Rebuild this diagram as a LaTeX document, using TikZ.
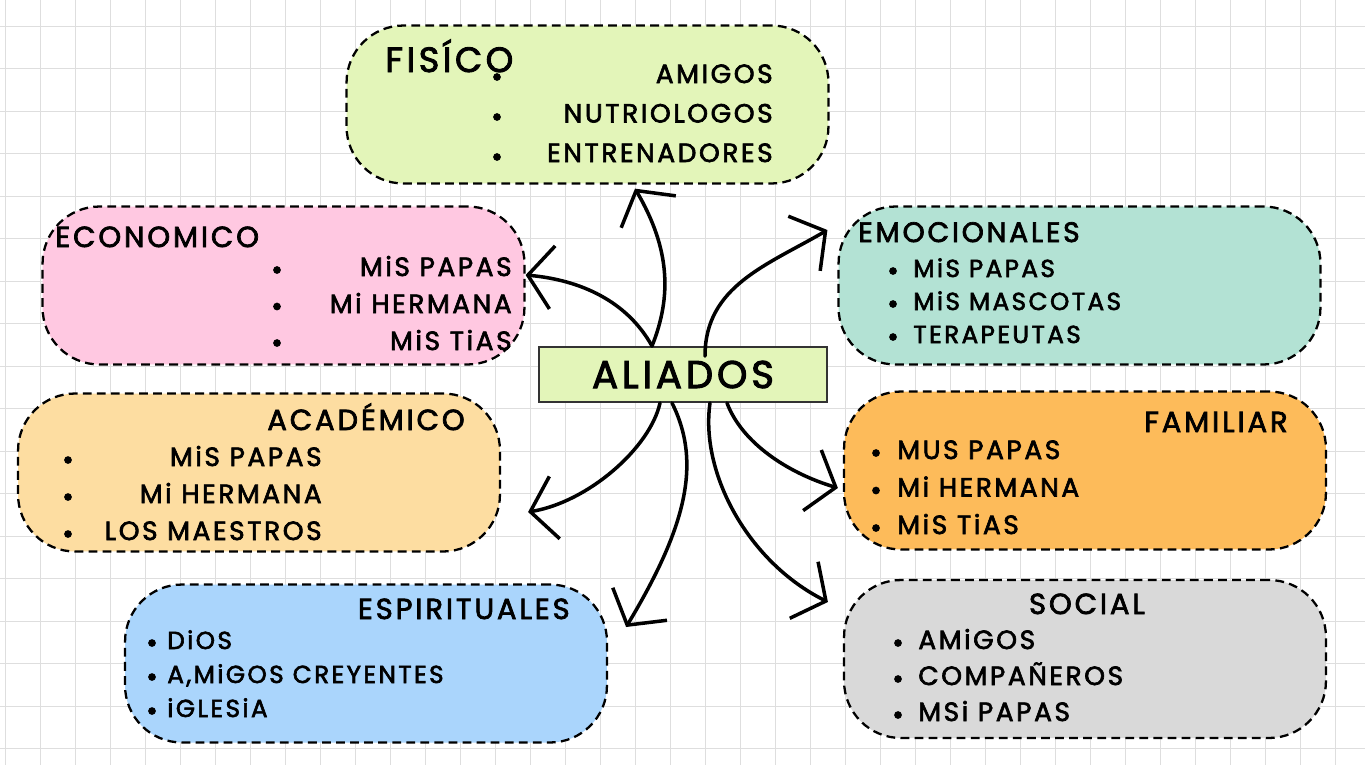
\documentclass[tikz,border=0pt]{standalone}
\usepackage{fontspec}
\setmainfont{Poppins}
\newfontfamily\handfont{Poppins}[LetterSpace=10, FakeBold=2.5]
\usetikzlibrary{arrows.meta}

\definecolor{fisicoC}{HTML}{E3F5B9}
\definecolor{economicoC}{HTML}{FFC8E1}
\definecolor{emocionC}{HTML}{B3E2D4}
\definecolor{academicoC}{HTML}{FDDDA1}
\definecolor{familiarC}{HTML}{FDBB5A}
\definecolor{espirituC}{HTML}{AAD5FC}
\definecolor{socialC}{HTML}{D9D9D9}

\tikzset{
  gridline/.style={draw=black!13, line width=0.5pt},
  catbox/.style={draw, dashed, dash pattern=on 5pt off 3pt, line width=1.3pt,
    rounded corners=1.14cm, minimum width=9.64cm, minimum height=3.16cm},
  title/.style={font=\handfont\fontsize{16.5}{18}\selectfont, inner sep=0pt},
  item/.style={font=\handfont\fontsize{15}{17}\selectfont, inner sep=0pt},
  smallitem/.style={font=\handfont\fontsize{14}{16}\selectfont, inner sep=0pt},
  dot/.style={circle, fill=black, inner sep=0pt, minimum size=4.4pt},
  aliarrow/.style={-{Straight Barb[length=14pt,width=36pt]}, line width=2pt, line cap=round}
}

\begin{document}
\begin{tikzpicture}[x=0.02cm, y=-0.02cm]

% background paper
\useasboundingbox (0,0) rectangle (1365,765);
\fill[white] (0,0) rectangle (1365,765);
\foreach \gx in {5,40,...,1365} \draw[gridline] (\gx,0) -- (\gx,765);
\foreach \gy in {26,68.5,...,765} \draw[gridline] (0,\gy) -- (1365,\gy);

% boxes
\node[catbox, fill=fisicoC] (fisico) at (587.5,104.5) {};
\node[catbox, fill=economicoC] (economico) at (283.5,285.5) {};
\node[catbox, fill=emocionC] (emocionales) at (1079.5,285.5) {};
\node[catbox, fill=academicoC] (academico) at (259,472.5) {};
\node[catbox, fill=familiarC] (familiar) at (1085,470.5) {};
\node[catbox, fill=espirituC] (espirituales) at (366,663.5) {};
\node[catbox, fill=socialC] (social) at (1085,659) {};
\node[draw=black!80, line width=1.1pt, fill=fisicoC, minimum width=5.76cm, minimum height=1.1cm,
  font=\handfont\fontsize{22}{24}\selectfont] (aliados) at (683,374.5) {ALIADOS};

% FISICO
\node[title, anchor=base west, font=\handfont\fontsize{20}{22}\selectfont] (fisT) at (385,72) {FISÍCO};
\foreach \t [count=\i] in {AMIGOS,NUTRIOLOGOS,ENTRENADORES} {
  \node[dot] (fisB\i) at (497,{77+40*(\i-1)}) {};
  \node[item, anchor=base east] (fisI\i) at (773,{83+39.5*(\i-1)}) {\t};
}

% ECONOMICO
\node[title, anchor=base west] (ecoT) at (55,247) {ECONOMICO};
\foreach \t [count=\i] in {MiS PAPAS,Mi HERMANA,MiS TiAS} {
  \node[dot] (ecoB\i) at (277,{270+36.5*(\i-1)}) {};
  \node[item, anchor=base east] (ecoI\i) at (512,{276+37*(\i-1)}) {\t};
}

% EMOCIONALES
\node[title, anchor=base west, font=\handfont\fontsize{16}{18}\selectfont] (emoT) at (858,242) {EMOCIONALES};
\foreach \t [count=\i] in {MiS PAPAS,MiS MASCOTAS,TERAPEUTAS} {
  \node[dot] (emoB\i) at (893,{271+33*(\i-1)}) {};
  \node[smallitem, anchor=base west] (emoI\i) at (913,{277+33*(\i-1)}) {\t};
}

% ACADEMICO
\node[title, anchor=base east] (acaT) at (465,430) {ACADÉMICO};
\foreach \t [count=\i] in {MiS PAPAS,Mi HERMANA,LOS MAESTROS} {
  \node[dot] (acaB\i) at (68,{460+37*(\i-1)}) {};
  \node[item, anchor=base east] (acaI\i) at (322,{466+37*(\i-1)}) {\t};
}

% FAMILIAR
\node[title, anchor=base east] (famT) at (1288,432) {FAMILIAR};
\foreach \t [count=\i] in {MUS PAPAS,Mi HERMANA,MiS TiAS} {
  \node[dot] (famB\i) at (876,{453+37.5*(\i-1)}) {};
  \node[item, anchor=base west] (famI\i) at (897,{459+37.5*(\i-1)}) {\t};
}

% ESPIRITUALES
\node[title, anchor=base east] (espT) at (570,619) {ESPIRITUALES};
\foreach \t [count=\i] in {DiOS,{A,MiGOS CREYENTES},iGLESiA} {
  \node[dot] (espB\i) at (152,{643+34*(\i-1)}) {};
  \node[smallitem, anchor=base west] (espI\i) at (167,{649+34*(\i-1)}) {\t};
}

% SOCIAL
\node[title, anchor=base] (socT) at (1087,614) {SOCIAL};
\foreach \t [count=\i] in {AMiGOS,COMPAÑEROS,MSi PAPAS} {
  \node[dot] (socB\i) at (898,{643+36*(\i-1)}) {};
  \node[item, anchor=base west] (socI\i) at (918,{649+36*(\i-1)}) {\t};
}

% arrows from ALIADOS
\draw[aliarrow] ([xshift=-0.62cm]aliados.north) .. controls +(20,-50) and +(35,60) .. ([xshift=0.95cm,yshift=-0.08cm]fisico.south);
\draw[aliarrow] ([xshift=-0.62cm]aliados.north) .. controls +(-25,-45) and +(55,5) .. ([yshift=0.21cm]economico.east);
\draw[aliarrow] ([xshift=0.44cm,yshift=-0.2cm]aliados.north) .. controls +(0,-70) and +(-60,35) .. ([xshift=-0.2cm,yshift=1.11cm]emocionales.west);
\draw[aliarrow] ([xshift=-0.46cm]aliados.south) .. controls +(-10,45) and +(60,-10) .. ([xshift=0.54cm,yshift=-0.79cm]academico.east);
\draw[aliarrow] ([xshift=-0.22cm]aliados.south) .. controls +(30,60) and +(60,-100) .. ([xshift=0.36cm,yshift=0.73cm]espirituales.east);
\draw[aliarrow] ([xshift=0.54cm]aliados.south) .. controls +(-10,70) and +(-80,-40) .. ([xshift=-0.3cm,yshift=1.14cm]social.west);
\draw[aliarrow] ([xshift=0.88cm]aliados.south) .. controls +(15,40) and +(-50,-15) .. ([xshift=-0.1cm,yshift=-0.35cm]familiar.west);

\end{tikzpicture}
\end{document}
